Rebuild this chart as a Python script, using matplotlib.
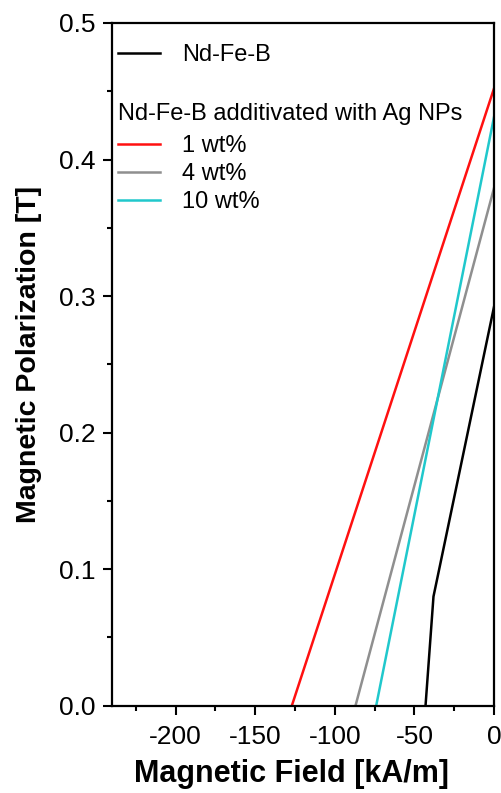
import numpy as np
import matplotlib.pyplot as plt
from matplotlib.ticker import MultipleLocator

plt.rcParams['font.family'] = ['Liberation Sans', 'DejaVu Sans']

# demagnetisation curves (second quadrant), field in kA/m, polarization in T
ndfeb_H = [-43, -38, 0]
ndfeb_J = [0.0, 0.08, 0.292]
ag1_H = [-127, 0]
ag1_J = [0.0, 0.452]
ag4_H = [-87, 0]
ag4_J = [0.0, 0.379]
ag10_H = [-74, 0]
ag10_J = [0.0, 0.431]

fig = plt.figure(figsize=(5.02, 7.93), dpi=100)
ax = fig.add_axes([0.223, 0.110, 0.761, 0.861])

l0, = ax.plot(ndfeb_H, ndfeb_J, color='black', lw=1.8)
l1, = ax.plot(ag1_H, ag1_J, color='#ff1010', lw=1.8)
l4, = ax.plot(ag4_H, ag4_J, color='#8f8f8f', lw=1.8)
l10, = ax.plot(ag10_H, ag10_J, color='#20c8cc', lw=1.8)

ax.set_xlim(-240, 0)
ax.set_ylim(0, 0.5)
ax.xaxis.set_minor_locator(MultipleLocator(25))
ax.yaxis.set_major_locator(MultipleLocator(0.1))
ax.yaxis.set_minor_locator(MultipleLocator(0.05))
ax.set_xticks([-200, -150, -100, -50, 0])
ax.set_xticklabels(['-200', '-150', '-100', '-50', '0'])
ax.tick_params(which='major', direction='out', length=6.5, width=1.5, labelsize=19)
ax.tick_params(axis='x', which='major', pad=7)
ax.tick_params(axis='y', which='major', pad=5)
ax.tick_params(which='minor', direction='out', length=3.5, width=1.5)
for s in ax.spines.values():
    s.set_linewidth(1.6)

ax.set_xlabel('Magnetic Field [kA/m]', fontsize=22, fontweight='bold')
ax.set_ylabel('Magnetic Polarization [T]', fontsize=20.5, fontweight='bold')
ax.xaxis.set_label_coords(0.471, -0.078)
ax.yaxis.set_label_coords(-0.183, 0.514)

leg1 = ax.legend([l0], ['Nd-Fe-B'], loc='upper left', bbox_to_anchor=(0.016, 0.969),
                 frameon=False, fontsize=17, handlelength=1.78, handletextpad=0.93,
                 borderpad=0, borderaxespad=0)
ax.add_artist(leg1)
ax.text(0.016, 0.867, 'Nd-Fe-B additivated with Ag NPs', transform=ax.transAxes,
        fontsize=17, va='center', ha='left')
ax.legend([l1, l4, l10], ['1 wt%', '4 wt%', '10 wt%'], loc='upper left',
          bbox_to_anchor=(0.016, 0.836), frameon=False, fontsize=17,
          handlelength=1.78, handletextpad=0.93, labelspacing=0.26,
          borderpad=0, borderaxespad=0)

fig.savefig('out.png', dpi=100)
